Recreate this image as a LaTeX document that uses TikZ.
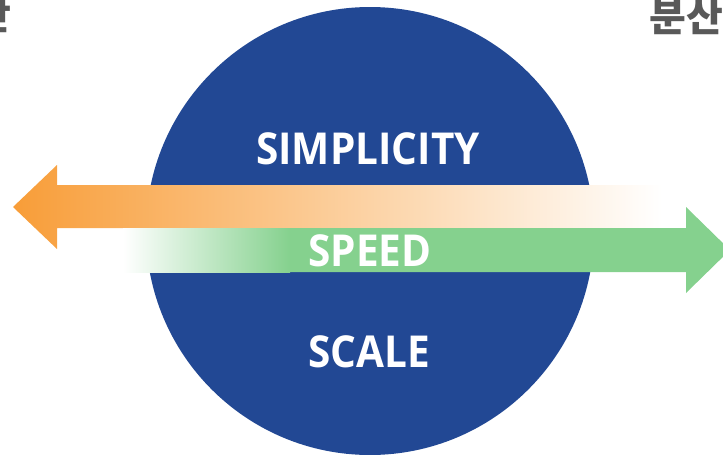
\documentclass[tikz,border=0pt]{standalone}
\usepackage{fontspec}
\usepackage{xcolor}
\usepackage{tikz}
\usetikzlibrary{positioning,calc}

\newfontfamily\wordfont{Open Sans}[FakeStretch=0.92]
\newfontfamily\korfont{Noto Sans CJK KR}

\definecolor{circleblue}{RGB}{34,72,148}
\definecolor{arroworange}{RGB}{248,157,56}
\definecolor{arrowpeach}{RGB}{251,198,166}
\definecolor{arrowgreen}{RGB}{133,209,142}
\definecolor{sidegray}{RGB}{89,89,89}

\begin{document}
\begin{tikzpicture}[x=1pt, y=-1pt,
  word/.style={font=\wordfont\bfseries\fontsize{44}{44}\selectfont, text=white, inner sep=0pt},
  side/.style={font=\korfont\bfseries\fontsize{40}{40}\selectfont, text=sidegray, inner sep=0pt}]

\useasboundingbox (0,0) rectangle (723,455);
\clip (0,0) rectangle (723,455);

% Circle
\fill[circleblue] (370,231) circle (224);

% Orange arrow (to the left)
\shade[left color=arroworange, middle color=arrowpeach, right color=white]
  (13,207) -- (57,165) -- (57,185) -- (662,185) -- (662,228) -- (57,228) -- (57,249) -- cycle;

% Green arrow (to the right)
\fill[arrowgreen]
  (123,228) -- (686,228) -- (686,207) -- (730,250) -- (686,293) -- (686,272) -- (123,272) -- cycle;
\shade[left color=white, right color=arrowgreen] (123,228) rectangle (290,272);

% Words
\node[word] (simplicity) at (368,149) {SIMPLICITY};
\node[word] (speed) at (370,251) {SPEED};
\node[word] (scale) at (369,352) {SCALE};

% Cut-off words at the top
\node[side, anchor=base east] (centre) at (12,29) {안};
\node[side, anchor=base west] (spread) at (649,31) {분산};

\end{tikzpicture}
\end{document}
